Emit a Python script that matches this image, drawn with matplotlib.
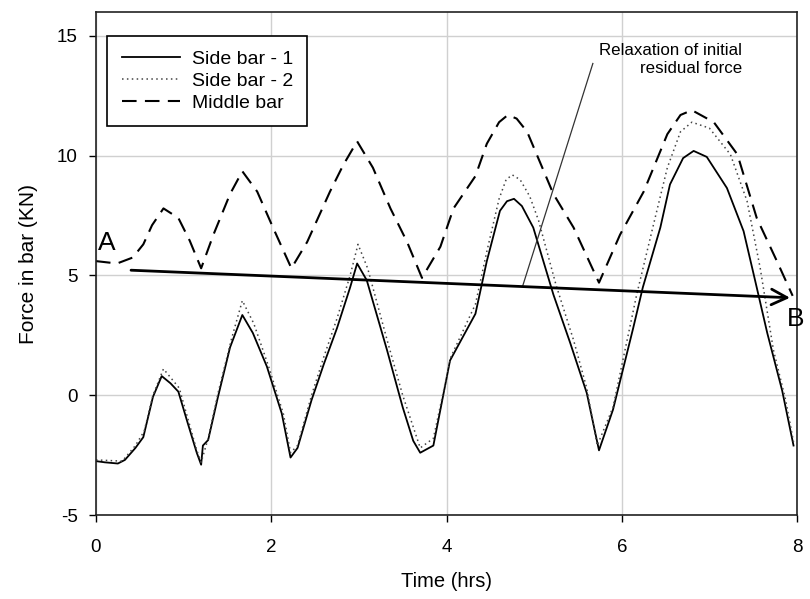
import matplotlib
matplotlib.use("Agg")
import matplotlib.pyplot as plt

plt.rcParams['font.family'] = ['Liberation Sans', 'DejaVu Sans']
plt.rcParams['axes.unicode_minus'] = False

# Side bar - 1 (solid)
t_side1 = [0.0, 0.1, 0.25, 0.33, 0.45, 0.54, 0.65, 0.75, 0.85, 0.94, 1.05, 1.15, 1.2,
           1.22, 1.28, 1.39, 1.53, 1.67, 1.79, 1.95, 2.12, 2.22, 2.3, 2.46, 2.6, 2.75,
           2.9, 2.98, 3.09, 3.32, 3.5, 3.62, 3.7, 3.85, 4.04, 4.33, 4.46, 4.61, 4.69,
           4.77, 4.86, 4.99, 5.22, 5.41, 5.6, 5.74, 5.9, 6.13, 6.24, 6.44, 6.55, 6.7,
           6.82, 6.97, 7.2, 7.39, 7.54, 7.66, 7.83, 7.96]
f_side1 = [-2.75, -2.8, -2.85, -2.7, -2.2, -1.75, -0.07, 0.8, 0.5, 0.15, -1.2, -2.4, -2.9,
           -2.1, -1.87, -0.1, 2.0, 3.35, 2.6, 1.2, -0.76, -2.6, -2.2, -0.2, 1.3, 2.8,
           4.5, 5.5, 4.8, 1.9, -0.5, -1.9, -2.4, -2.1, 1.45, 3.4, 5.6, 7.7, 8.1,
           8.2, 7.9, 7.0, 4.2, 2.2, 0.1, -2.3, -0.6, 2.8, 4.5, 7.0, 8.8, 9.9,
           10.2, 9.95, 8.65, 6.85, 4.5, 2.6, 0.2, -2.1]

# Side bar - 2 (dotted)
t_side2 = [0.0, 0.3, 0.45, 0.55, 0.65, 0.77, 0.95, 1.15, 1.2, 1.28, 1.4, 1.55, 1.67,
           1.8, 1.97, 2.14, 2.22, 2.3, 2.46, 2.6, 2.75, 2.9, 2.99, 3.1, 3.33, 3.5,
           3.7, 3.85, 4.05, 4.33, 4.46, 4.6, 4.68, 4.75, 4.84, 4.95, 5.05, 5.25, 5.45,
           5.6, 5.72, 5.9, 6.17, 6.38, 6.52, 6.67, 6.8, 7.0, 7.24, 7.43, 7.58, 7.73,
           7.87, 7.96]
f_side2 = [-2.7, -2.75, -2.1, -1.5, 0.0, 1.1, 0.3, -2.3, -2.8, -1.8, 0.2, 2.4, 3.95,
           3.0, 1.2, -0.8, -2.4, -2.1, 0.0, 1.6, 3.2, 5.0, 6.3, 5.3, 2.2, 0.0,
           -2.2, -1.8, 1.6, 3.8, 6.0, 8.2, 9.0, 9.2, 9.0, 8.3, 7.3, 4.6, 2.3,
           0.3, -2.1, -0.5, 4.2, 7.4, 9.5, 11.0, 11.4, 11.15, 10.05, 8.1, 5.3, 1.9,
           -0.2, -1.95]

# Middle bar (dashed)
t_mid = [0.0, 0.24, 0.42, 0.54, 0.64, 0.77, 0.94, 1.07, 1.2, 1.34, 1.53, 1.67, 1.84,
         2.02, 2.23, 2.41, 2.67, 2.82, 2.98, 3.16, 3.36, 3.55, 3.72, 3.93, 4.08, 4.33,
         4.46, 4.6, 4.7, 4.8, 4.92, 5.22, 5.45, 5.74, 5.98, 6.25, 6.52, 6.67, 6.8,
         7.05, 7.32, 7.54, 7.77, 7.95]
f_mid = [5.6, 5.5, 5.75, 6.3, 7.1, 7.8, 7.4, 6.45, 5.3, 6.7, 8.4, 9.35, 8.5,
         7.0, 5.3, 6.4, 8.5, 9.6, 10.6, 9.5, 7.8, 6.4, 4.9, 6.2, 7.8, 9.15,
         10.5, 11.4, 11.7, 11.55, 11.0, 8.4, 7.0, 4.7, 6.7, 8.5, 10.9, 11.7, 11.9,
         11.4, 10.05, 7.4, 5.6, 4.15]

arrow_start = (0.4, 5.22)
arrow_end = (7.92, 4.07)

fig = plt.figure(figsize=(8.1, 5.99), dpi=100)
ax = fig.add_axes([0.1185, 0.1402, 0.8655, 0.8398])

ax.plot(t_side1, f_side1, color='black', lw=1.3, label='Side bar - 1')
ax.plot(t_side2, f_side2, color='#444444', lw=1.1, linestyle=(0, (1, 2.2)), label='Side bar - 2')
ax.plot(t_mid, f_mid, color='black', lw=1.5, linestyle=(0, (7, 4)), label='Middle bar')

ax.annotate('', xy=arrow_end, xytext=arrow_start,
            arrowprops=dict(arrowstyle='->', lw=2, color='black', mutation_scale=28,
                            shrinkA=0, shrinkB=0))
ax.plot([4.87, 5.67], [4.57, 13.85], color='#333333', lw=0.9)
ax.text(7.37, 14.0, 'Relaxation of initial\nresidual force', ha='right', va='center',
        fontsize=12.2, linespacing=1.25)
ax.text(0.02, 6.35, 'A', fontsize=19, ha='left', va='center')
ax.text(7.88, 3.2, 'B', fontsize=19, ha='left', va='center', clip_on=False)

ax.set_xlim(0, 8)
ax.set_ylim(-5, 16)
ax.set_xticks([0, 2, 4, 6, 8])
ax.set_yticks([-5, 0, 5, 10, 15])
ax.grid(True, color='#d0d0d0', lw=1)
ax.set_axisbelow(True)
ax.tick_params(direction='out', length=5, width=1, labelsize=13.5, top=False, right=False)
ax.tick_params(axis='x', pad=12)
ax.tick_params(axis='y', pad=8)
for s in ax.spines.values():
    s.set_linewidth(1.2)
    s.set_color('#222222')

ax.set_xlabel('Time (hrs)', fontsize=14.5, labelpad=12)
ax.set_ylabel('Force in bar (KN)', fontsize=15, labelpad=14)

leg = ax.legend(loc='upper left', bbox_to_anchor=(0.0157, 0.953), fontsize=14,
                frameon=True, fancybox=False, edgecolor='black', framealpha=1,
                handlelength=3.0, handletextpad=0.6, borderpad=0.75, labelspacing=0.22,
                borderaxespad=0)
leg.get_frame().set_linewidth(1.2)

fig.savefig('out.png', dpi=100)
